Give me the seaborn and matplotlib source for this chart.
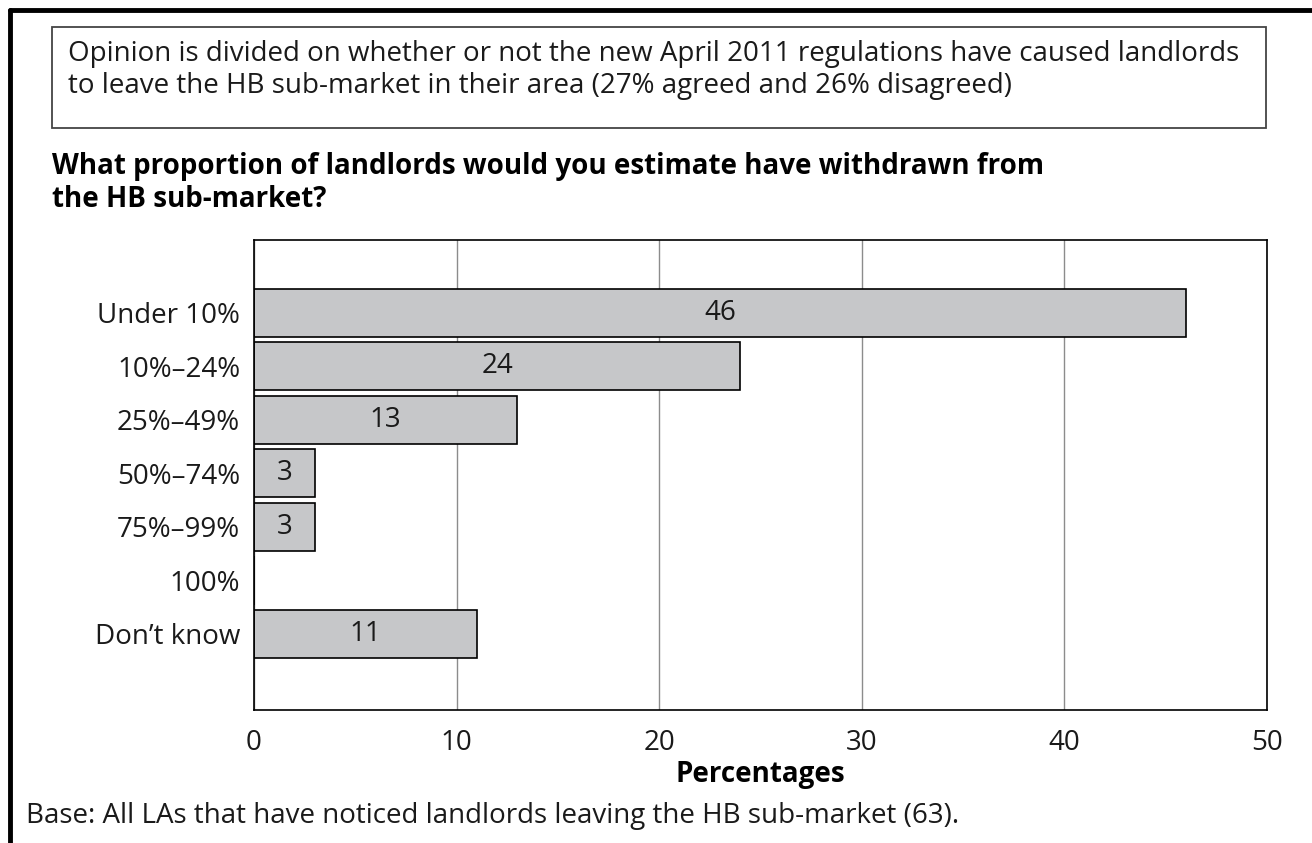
import pandas as pd
import numpy as np
import matplotlib.pyplot as plt
from matplotlib.patches import Rectangle
from matplotlib.lines import Line2D
import seaborn as sns

# datos
categorias = ['Under 10%', '10%–24%', '25%–49%', '50%–74%', '75%–99%', '100%', 'Don’t know']
valores = [46, 24, 13, 3, 3, 0, 11]
etiquetas = ['46', '24', '13', '3', '3', '', '11']

caja_texto = ('Opinion is divided on whether or not the new April 2011 regulations have caused landlords\n'
              'to leave the HB sub-market in their area (27% agreed and 26% disagreed)')
titulo = ('What proportion of landlords would you estimate have withdrawn from\n'
          'the HB sub-market?')
base_texto = 'Base: All LAs that have noticed landlords leaving the HB sub-market (63).'

df = pd.DataFrame({'cat': categorias, 'val': valores})

sns.set_style('white')
plt.rcParams['font.family'] = ['Open Sans', 'DejaVu Sans']

W, H = 1312, 843
fig = plt.figure(figsize=(W / 100, H / 100), dpi=100)

def fx(px):
    return px / W

def fy(py):
    return 1 - py / H

TXT = 20
NEGRO = '#1a1a1a'

ax = fig.add_axes([fx(254), fy(710), fx(1267) - fx(254), fy(240) - fy(710)])
sns.barplot(data=df, x='val', y='cat', orient='h', color='#c6c7c9', saturation=1,
            edgecolor='black', linewidth=1.2, width=0.9, ax=ax)

ax.bar_label(ax.containers[0], labels=etiquetas, label_type='center', fontsize=TXT, color=NEGRO)

ax.set_xlim(0, 50)
ax.set_ylim(7.42, -1.36)
ax.set_xticks([0, 10, 20, 30, 40, 50])
ax.xaxis.grid(True, color='#8c8c8c', linewidth=1)
ax.set_axisbelow(True)
ax.tick_params(axis='both', length=0, labelsize=TXT, colors=NEGRO)
ax.tick_params(axis='x', pad=14)
ax.tick_params(axis='y', pad=10)
for s in ax.spines.values():
    s.set_visible(True)
    s.set_color('black')
    s.set_linewidth(1.2)
ax.set_ylabel('')
ax.set_xlabel('Percentages', fontsize=TXT, fontweight='bold', labelpad=2, color='black')

# caja superior
fig.patches.append(Rectangle((fx(52), fy(128)), fx(1266) - fx(52), fy(27) - fy(128),
                             transform=fig.transFigure, fill=False, edgecolor='#444444', linewidth=1.3))
fig.text(fx(68), fy(40), caja_texto, fontsize=TXT, va='top', ha='left', color=NEGRO, linespacing=1.18)

fig.text(fx(52), fy(152), titulo, fontsize=TXT, fontweight='bold', va='top', ha='left', color='black', linespacing=1.18)

fig.text(fx(26), fy(816), base_texto, fontsize=TXT, va='center', ha='left', color=NEGRO)

# borde exterior
fig.lines.append(Line2D([fx(10), 1], [fy(10), fy(10)], transform=fig.transFigure, color='black', linewidth=3.5))
fig.lines.append(Line2D([fx(10), fx(10)], [0, fy(10)], transform=fig.transFigure, color='black', linewidth=3.5))

plt.savefig('out.png', dpi=100)
plt.close()
